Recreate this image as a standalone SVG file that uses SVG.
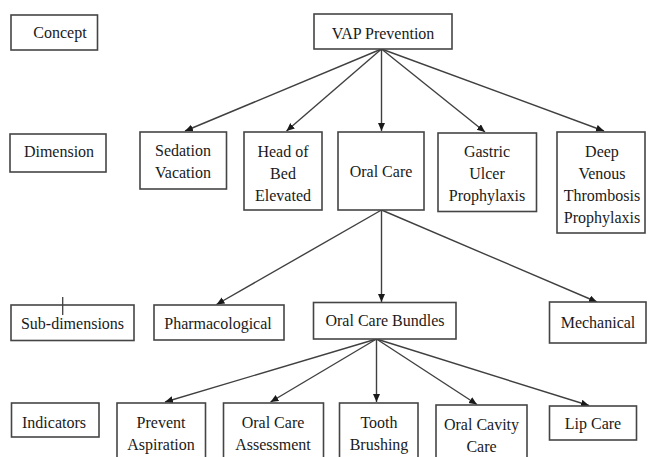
<svg xmlns="http://www.w3.org/2000/svg" width="648" height="457" viewBox="0 0 648 457">
<style>
.box{fill:#fff;stroke:#454545;stroke-width:1.6}
.t{font-size:16px;fill:#1a1a1a;text-anchor:middle}
.c{stroke:#404040;stroke-width:1.4;fill:none;marker-end:url(#ah)}
</style>
<defs>
<marker id="ah" markerUnits="userSpaceOnUse" markerWidth="9" markerHeight="8" refX="8" refY="3.5" orient="auto">
<path d="M0,0 L8,3.5 L0,7 z" fill="#1a1a1a"/>
</marker>
</defs>
<rect width="648" height="457" fill="#fff"/>
<g id="connectors">
<line class="c" x1="381.5" y1="49" x2="185" y2="131"/>
<line class="c" x1="381.5" y1="49" x2="286.5" y2="131"/>
<line class="c" x1="381.5" y1="49" x2="381.5" y2="131"/>
<line class="c" x1="381.5" y1="49" x2="485" y2="132"/>
<line class="c" x1="381.5" y1="49" x2="604" y2="131"/>
<line class="c" x1="381.5" y1="210" x2="216.5" y2="304.5"/>
<line class="c" x1="381.5" y1="210" x2="381.5" y2="302"/>
<line class="c" x1="381.5" y1="210" x2="597" y2="302"/>
<line class="c" x1="376.5" y1="339" x2="165" y2="402"/>
<line class="c" x1="376.5" y1="339" x2="270.5" y2="402"/>
<line class="c" x1="376.5" y1="339" x2="376.5" y2="402"/>
<line class="c" x1="376.5" y1="339" x2="477" y2="404.5"/>
<line class="c" x1="376.5" y1="339" x2="589" y2="405.5"/>
</g>
<g id="nodes" font-family="Liberation Serif, Times New Roman, DejaVu Serif, serif">
<g id="concept"><rect class="box" x="11" y="15" width="86.5" height="35"/><text class="t" x="60" y="38">Concept</text></g>
<g id="vap"><rect class="box" x="314" y="14" width="138" height="35"/><text class="t" x="383" y="39">VAP Prevention</text></g>
<g id="dimension"><rect class="box" x="10" y="134" width="96" height="38"/><text class="t" x="59" y="157">Dimension</text></g>
<g id="sedation"><rect class="box" x="140" y="132" width="86.5" height="57"/><text class="t" x="183" y="156">Sedation</text><text class="t" x="183" y="178">Vacation</text></g>
<g id="headofbed"><rect class="box" x="244" y="132" width="78" height="78"/><text class="t" x="283" y="156.5">Head of</text><text class="t" x="283" y="178.5">Bed</text><text class="t" x="283" y="200.5">Elevated</text></g>
<g id="oralcare"><rect class="box" x="338" y="132" width="86" height="78"/><text class="t" x="381" y="177">Oral Care</text></g>
<g id="gastric"><rect class="box" x="438" y="133" width="98.5" height="78.5"/><text class="t" x="487" y="157">Gastric</text><text class="t" x="487" y="179">Ulcer</text><text class="t" x="487" y="201">Prophylaxis</text></g>
<g id="dvt"><rect class="box" x="557" y="132" width="88" height="101"/><text class="t" x="602" y="156.5">Deep</text><text class="t" x="602" y="178.5">Venous</text><text class="t" x="602" y="200.5">Thrombosis</text><text class="t" x="602" y="222.5">Prophylaxis</text></g>
<g id="subdimensions"><rect class="box" x="11" y="305" width="123" height="35.5"/><line x1="62.7" y1="297" x2="62.7" y2="315" stroke="#404040" stroke-width="1.3"/><text class="t" x="72.5" y="329">Sub-dimensions</text></g>
<g id="pharmacological"><rect class="box" x="154" y="305" width="130" height="35"/><text class="t" x="218" y="329">Pharmacological</text></g>
<g id="oralcarebundles"><rect class="box" x="313.5" y="302.5" width="142.5" height="36.5"/><text class="t" x="385" y="326">Oral Care Bundles</text></g>
<g id="mechanical"><rect class="box" x="549.5" y="302" width="96.5" height="41"/><text class="t" x="598" y="328">Mechanical</text></g>
<g id="indicators"><rect class="box" x="11.5" y="403" width="87.5" height="34"/><text class="t" x="54" y="428">Indicators</text></g>
<g id="preventaspiration"><rect class="box" x="117" y="403" width="88.5" height="70"/><text class="t" x="161" y="428">Prevent</text><text class="t" x="161" y="450">Aspiration</text></g>
<g id="oralcareassessment"><rect class="box" x="223.5" y="403" width="100" height="70"/><text class="t" x="273" y="428">Oral Care</text><text class="t" x="273" y="450">Assessment</text></g>
<g id="toothbrushing"><rect class="box" x="339.5" y="403" width="78.5" height="70"/><text class="t" x="379" y="428">Tooth</text><text class="t" x="379" y="450">Brushing</text></g>
<g id="oralcavitycare"><rect class="box" x="436" y="405" width="91" height="70"/><text class="t" x="481.5" y="430">Oral Cavity</text><text class="t" x="481.5" y="452">Care</text></g>
<g id="lipcare"><rect class="box" x="549.5" y="406" width="87" height="34"/><text class="t" x="593" y="429">Lip Care</text></g>
</g>
</svg>
